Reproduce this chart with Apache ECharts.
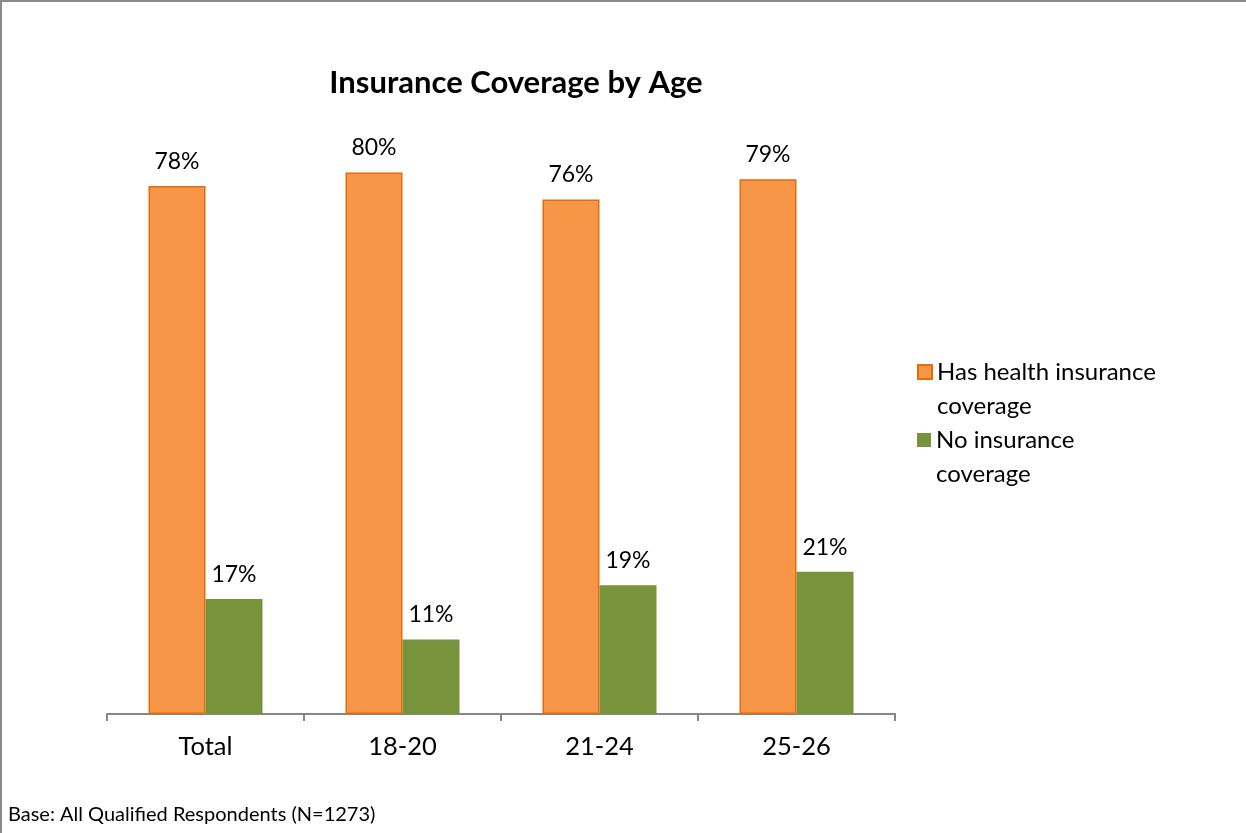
<!DOCTYPE html>
<html><head><meta charset="utf-8">
<script src="https://cdn.jsdelivr.net/npm/echarts@6/dist/echarts.min.js"></script>
<style>
html,body{margin:0;padding:0;background:#fff;}
#wrap{position:absolute;left:0;top:0;width:1246px;height:833px;box-sizing:border-box;border-left:2px solid #8a8a8a;border-top:2px solid #8a8a8a;}
#chart{position:absolute;left:0;top:0;width:1246px;height:833px;}
</style></head>
<body>
<div id="wrap"></div>
<div id="chart"></div>
<script>
const categories = ['Total', '18-20', '21-24', '25-26'];
const hasCoverage = [78, 80, 76, 79];
const noCoverage = [17, 11, 19, 21];
const seriesNames = ['Has health insurance coverage', 'No insurance coverage'];
const legendLabels = ['Has health insurance\ncoverage', 'No insurance\ncoverage'];
const titleText = 'Insurance Coverage by Age';
const footnote = 'Base: All Qualified Respondents (N=1273)';

const FONT = 'Lato, "Open Sans", sans-serif';
const chart = echarts.init(document.getElementById('chart'), null, {renderer: 'canvas'});

const labelCfg = {
  show: true, position: 'top', distance: 13,
  formatter: p => p.value + '%',
  color: '#000', fontSize: 23, fontFamily: FONT
};

function legendFor(i, top) {
  return {
    left: 912, top: top, orient: 'vertical',
    data: [seriesNames[i]],
    itemWidth: 14, itemHeight: 14, itemGap: 0,
    icon: 'rect', selectedMode: false,
    formatter: () => '\n' + legendLabels[i],
    textStyle: {fontSize: 24, fontFamily: FONT, color: '#000', lineHeight: 34}
  };
}

chart.setOption({
  animation: false,
  backgroundColor: 'transparent',
  title: [{
    text: titleText, left: 511, top: 62, textAlign: 'center',
    textStyle: {fontSize: 31, fontWeight: 'bold', fontFamily: FONT, color: '#000'}
  }, {
    text: footnote, left: 3, top: 800,
    textStyle: {fontSize: 20, fontWeight: 'normal', fontFamily: FONT, color: '#000'}
  }],
  legend: [legendFor(0, 316), legendFor(1, 384)],
  grid: {left: 107, right: 351, top: 37, bottom: 119},
  xAxis: {
    type: 'category', data: categories,
    axisLine: {lineStyle: {color: '#868686', width: 2}},
    axisTick: {show: true, length: 7, lineStyle: {color: '#868686', width: 2}},
    axisLabel: {color: '#000', fontSize: 25.5, fontFamily: FONT, margin: 20}
  },
  yAxis: {type: 'value', min: 0, max: 100, show: false, splitLine: {show: false}},
  series: [{
    name: seriesNames[0], type: 'bar', data: hasCoverage,
    barWidth: 57, barGap: '0%',
    itemStyle: {color: '#F79646', borderColor: '#E46C0A', borderWidth: 1.5},
    label: labelCfg
  }, {
    name: seriesNames[1], type: 'bar', data: noCoverage,
    barWidth: 57,
    itemStyle: {color: '#77933C'},
    label: labelCfg
  }]
});
</script>
</body></html>
